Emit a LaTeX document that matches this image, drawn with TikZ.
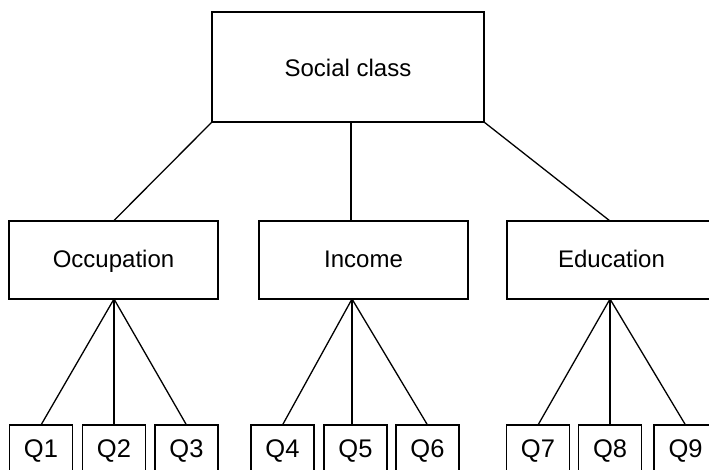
\documentclass[tikz,border=0pt]{standalone}
\usepackage{fontspec}
\setmainfont{Liberation Sans}
\usetikzlibrary{calc}
\begin{document}
\begin{tikzpicture}[x=1pt,y=-1pt, line width=1.3pt,
  box/.style={draw, rectangle, inner sep=0pt, outer sep=0pt,
    font=\fontsize{24pt}{28pt}\selectfont, text height=16pt, text depth=0pt},
  midbox/.style={box, minimum width=209pt, minimum height=78pt},
  qbox/.style={box, minimum width=63pt, minimum height=60pt,
    font=\fontsize{25.5pt}{30pt}\selectfont, text height=20pt, text depth=16pt}]
\useasboundingbox (0,0) rectangle (709,470);
\clip (0,0) rectangle (709,470);
\node[box, minimum width=272pt, minimum height=110pt, text height=20pt] (sc) at (348,67) {Social class};
\node[midbox] (occ) at (113.5,260) {Occupation};
\node[midbox] (inc) at (363.5,260) {Income};
\node[midbox] (edu) at (611.5,260) {Education};
\coordinate (scm) at (351,122);
\coordinate (incT) at (351,221);
\coordinate (incB) at (352,299);
\coordinate (occB) at (114,299);
\coordinate (eduB) at (610,299);
\coordinate (eduT) at (610,221);
\foreach \n/\x in {1/41,2/114,3/186.5,4/282.5,5/355.5,6/427.5,7/538,8/610,9/685.5}
  \node[qbox] (q\n) at (\x,455) {Q\n};
\draw (sc.south west) -- (occ.north);
\draw (scm) -- (incT);
\draw (sc.south east) -- (eduT);
\draw (occB) -- (q1.north);
\draw (occB) -- (q2.north);
\draw (occB) -- (q3.north);
\draw (incB) -- (q4.north);
\draw (incB) -- (incB |- q5.north);
\draw (incB) -- (q6.north);
\draw (eduB) -- (q7.north);
\draw (eduB) -- (q8.north);
\draw (eduB) -- (q9.north);
\end{tikzpicture}
\end{document}
